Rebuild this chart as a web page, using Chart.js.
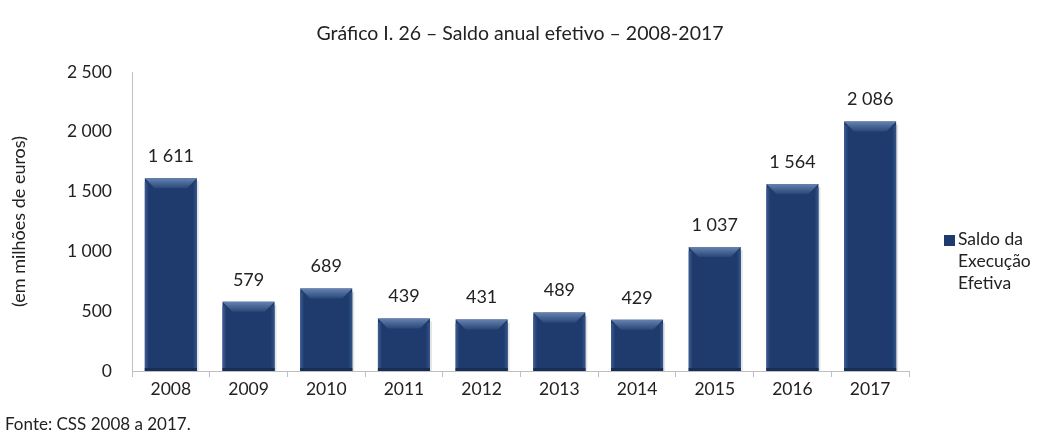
<!DOCTYPE html>
<html>
<head>
<meta charset="utf-8">
<script src="https://cdn.jsdelivr.net/npm/chart.js@4"></script>
<style>
  body { margin: 0; background: #fff; font-family: Lato, "Open Sans", sans-serif; color: #222; }
  #wrap { position: relative; width: 1045px; height: 434px; }
  #title { position: absolute; left: 0; width: 1040px; top: 21px; text-align: center; font-size: 19.5px; line-height: 24px; }
  #legend { position: absolute; left: 944px; top: 228px; font-size: 17.5px; line-height: 22px; }
  #legend .box { display: inline-block; width: 11px; height: 11px; background: #1f3b6d; margin-right: 3px; vertical-align: -1px; }
  #legend .ind { padding-left: 14px; }
  #source { position: absolute; left: 5px; top: 413px; font-size: 17px; }
</style>
</head>
<body>
<div id="wrap">
  <canvas id="saldoChart" width="1045" height="434"></canvas>
  <div id="title">Gráfico I. 26 – Saldo anual efetivo – 2008-2017</div>
  <div id="legend"><span class="box"></span>Saldo da<div class="ind">Execução</div><div class="ind">Efetiva</div></div>
  <div id="source">Fonte: CSS 2008 a 2017.</div>
</div>
<script>
const years = ['2008', '2009', '2010', '2011', '2012', '2013', '2014', '2015', '2016', '2017'];
const saldo = [1611, 579, 689, 439, 431, 489, 429, 1037, 1564, 2086];
const yTicks = [0, 500, 1000, 1500, 2000, 2500];

const FONT = 'Lato, "Open Sans", sans-serif';
const fmt = v => String(v).replace(/\B(?=(\d{3})+(?!\d))/g, ' ');

// bevel look + value labels, drawn on top of the library's bar elements
const bevelBars = {
  id: 'bevelBars',
  afterDatasetsDraw(chart) {
    const ctx = chart.ctx;
    const meta = chart.getDatasetMeta(0);
    meta.data.forEach((bar, i) => {
      const l = bar.x - bar.width / 2, r = bar.x + bar.width / 2;
      const t = bar.y, b = bar.base;
      const bv = 10;
      ctx.save();
      // soft shadow
      ctx.fillStyle = 'rgba(0,0,0,0.10)';
      ctx.fillRect(r, t + 3, 2, b - t - 3);
      // top bevel
      let g = ctx.createLinearGradient(0, t, 0, t + bv);
      g.addColorStop(0, '#6682b0');
      g.addColorStop(1, '#284878');
      ctx.fillStyle = g;
      ctx.beginPath();
      ctx.moveTo(l, t); ctx.lineTo(r, t); ctx.lineTo(r - bv, t + bv); ctx.lineTo(l + bv, t + bv);
      ctx.closePath(); ctx.fill();
      // left edge
      g = ctx.createLinearGradient(l, 0, l + 4, 0);
      g.addColorStop(0, '#3c5d92');
      g.addColorStop(1, '#1f3b6d');
      ctx.fillStyle = g;
      ctx.fillRect(l, t + 4, 4, b - t - 4);
      // right edge
      g = ctx.createLinearGradient(r - 4, 0, r, 0);
      g.addColorStop(0, '#1f3b6d');
      g.addColorStop(1, '#34558a');
      ctx.fillStyle = g;
      ctx.fillRect(r - 4, t + 4, 4, b - t - 4);
      // bottom edge
      ctx.fillStyle = '#172e56';
      ctx.fillRect(l, b - 3, r - l, 3);
      // label
      ctx.fillStyle = '#222';
      ctx.font = '18px ' + FONT;
      ctx.textAlign = 'center';
      ctx.textBaseline = 'middle';
      ctx.fillText(fmt(saldo[i]), bar.x, t - 22);
      ctx.restore();
    });
  }
};

new Chart(document.getElementById('saldoChart'), {
  type: 'bar',
  data: {
    labels: years,
    datasets: [{
      label: 'Saldo da Execução Efetiva',
      data: saldo,
      backgroundColor: '#1f3b6d',
      borderWidth: 0,
      barPercentage: 0.67,
      categoryPercentage: 1
    }]
  },
  options: {
    responsive: false,
    animation: false,
    layout: { padding: { left: 0, right: 136, top: 72, bottom: 28 } },
    plugins: {
      legend: { display: false },
      tooltip: { enabled: false }
    },
    scales: {
      x: {
        grid: { display: true, drawOnChartArea: false, offset: true, tickLength: 6, color: '#bfbfbf' },
        border: { color: '#bfbfbf' },
        ticks: { color: '#222', font: { size: 17.5, family: FONT }, padding: 2 },
        afterFit(s) { s.height = 35; }
      },
      y: {
        min: 0,
        max: 2500,
        afterBuildTicks(s) { s.ticks = yTicks.map(v => ({ value: v })); },
        grid: { display: false },
        border: { color: '#bfbfbf' },
        ticks: { color: '#222', font: { size: 17.5, family: FONT }, padding: 12, callback: v => fmt(v) },
        title: {
          display: true,
          text: '(em milhões de euros)',
          color: '#222',
          font: { size: 18, family: FONT },
          padding: { top: 8, bottom: 0 }
        },
        afterFit(s) { s.width = 132; }
      }
    }
  },
  plugins: [bevelBars]
});
</script>
</body>
</html>
